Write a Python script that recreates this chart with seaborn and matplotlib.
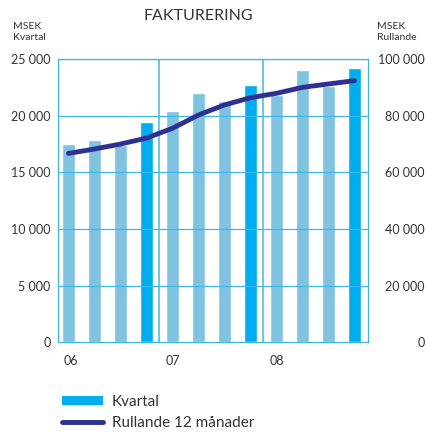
import pandas as pd
import numpy as np
import matplotlib.pyplot as plt
import seaborn as sns
from matplotlib.patches import Patch
from matplotlib.lines import Line2D

# data (MSEK)
quarters = ['Q1 06', 'Q2 06', 'Q3 06', 'Q4 06',
            'Q1 07', 'Q2 07', 'Q3 07', 'Q4 07',
            'Q1 08', 'Q2 08', 'Q3 08', 'Q4 08']
kvartal = [17500, 17850, 17400, 19450,
           20400, 22000, 21300, 22700,
           21800, 24000, 22600, 24200]
rullande = [66700, 68250, 70000, 72100,
            75550, 80250, 83800, 86350,
            87900, 90000, 91200, 92350]
kind = ['q', 'q', 'q', 'q4'] * 3
year_labels = ['06', '07', '08']

LIGHT = '#80c3e0'
DARK = '#00aeef'
GRID = '#3db6ea'
NAVY = '#2e3192'
TXT = '#333333'

sns.set_style('white')
plt.rcParams['font.family'] = ['Lato', 'DejaVu Sans']

df = pd.DataFrame({'quarter': quarters, 'kvartal': kvartal,
                   'rullande': rullande, 'kind': kind})
df['pos'] = np.arange(len(df))

fig = plt.figure(figsize=(4.27, 4.32), dpi=100)
ax = fig.add_axes([0.1347, 0.2072, 0.7271, 0.6562])

sns.barplot(data=df, x='quarter', y='kvartal', hue='kind',
            palette={'q': LIGHT, 'q4': DARK}, dodge=False,
            width=0.5, saturation=1, legend=False, ax=ax, zorder=1)
ax.set_xlim(-0.42, 11.52)
ax.set_ylim(0, 25000)
ax.set_yticks(range(0, 25001, 5000))
ax.set_yticklabels([f'{v:,}'.replace(',', ' ') for v in range(0, 25001, 5000)])
ax.set_xticks([-0.2, 3.75, 7.75])
ax.set_xticklabels(year_labels, ha='left')
ax.set_xlabel('')
ax.set_ylabel('')
ax.tick_params(length=0, labelsize=9, colors=TXT)
ax.tick_params(axis='y', pad=5)
ax.tick_params(axis='x', pad=9)

# grid over the bars
for v in range(5000, 25001, 5000):
    ax.axhline(v, color=GRID, lw=0.9, zorder=2)
for v in [3.5, 7.5]:
    ax.axvline(v, color=GRID, lw=1.1, zorder=2)
for s in ax.spines.values():
    s.set_color(GRID)
    s.set_linewidth(0.9)
    s.set_zorder(3)

ax2 = ax.twinx()
sns.lineplot(data=df, x='pos', y='rullande', color=NAVY, lw=3.5,
             solid_capstyle='round', ax=ax2)
ax2.set_ylim(0, 100000)
ax2.set_yticks(range(0, 100001, 20000))
ax2.set_yticklabels([f'{v:,}'.replace(',', ' ') for v in range(0, 100001, 20000)],
                    ha='right')
ax2.tick_params(length=0, labelsize=9, colors=TXT, pad=41)
ax2.set_ylabel('')
ax2.set_xlabel('')
for s in ax2.spines.values():
    s.set_visible(False)

fig.text(198 / 427, 1 - 16 / 432, 'FAKTURERING', ha='center', va='center',
         fontsize=11.5, color=TXT)
fig.text(13 / 427, 1 - 32 / 432, 'MSEK\nKvartal', ha='left', va='center',
         fontsize=7.5, color=TXT, linespacing=1.3)
fig.text(377 / 427, 1 - 32 / 432, 'MSEK\nRullande', ha='left', va='center',
         fontsize=7.5, color=TXT, linespacing=1.3)

handles = [Patch(facecolor=DARK, edgecolor='none'),
           Line2D([0], [0], color=NAVY, lw=3.5, solid_capstyle='round')]
fig.legend(handles, ['Kvartal', 'Rullande 12 månader'],
           loc='upper left', bbox_to_anchor=(50 / 427, 1 - 383 / 432),
           frameon=False, fontsize=11, handlelength=2.7, handleheight=0.55,
           handletextpad=0.55, labelspacing=0.42, labelcolor=TXT,
           borderpad=0.3)

fig.savefig('out.png', dpi=100)
